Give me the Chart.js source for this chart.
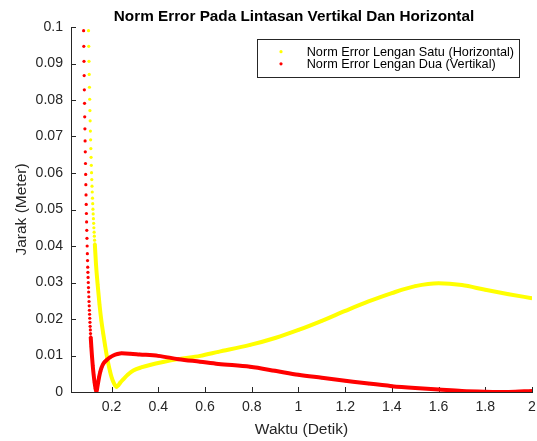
<!DOCTYPE html>
<html><head><meta charset="utf-8">
<script src="https://cdn.jsdelivr.net/npm/chart.js@4.4.0/dist/chart.umd.min.js"></script>
<style>html,body{margin:0;padding:0;background:#fff;} #wrap{width:537px;height:441px;position:relative;}</style>
</head><body><div id="wrap"><canvas id="c"></canvas></div>
<script>
const chartTitle = 'Norm Error Pada Lintasan Vertikal Dan Horizontal';
const xTitle = 'Waktu (Detik)';
const yTitle = 'Jarak (Meter)';
const seriesNames = ['Norm Error Lengan Satu (Horizontal)', 'Norm Error Lengan Dua (Vertikal)'];
const seriesColors = ['#FFFF00', '#FF0000'];

const xTicks = [0.2, 0.4, 0.6, 0.8, 1, 1.2, 1.4, 1.6, 1.8, 2];
const xTickLabels = ['0.2', '0.4', '0.6', '0.8', '1', '1.2', '1.4', '1.6', '1.8', '2'];
const yTicks = [0, 0.01, 0.02, 0.03, 0.04, 0.05, 0.06, 0.07, 0.08, 0.09, 0.1];
const yTickLabels = ['0', '0.01', '0.02', '0.03', '0.04', '0.05', '0.06', '0.07', '0.08', '0.09', '0.1'];
const xRange = [0.026, 2];
const yRange = [0, 0.1];

// Series 1: Lengan Satu (Horizontal) - yellow
const satuX = [0.101,0.102,0.103,0.104,0.105,0.106,0.107,0.108,0.109,0.110,
  0.111,0.112,0.113,0.114,0.115,0.116,0.117,0.118,0.119,0.120,
  0.121,0.122,0.123,0.124,0.125,0.126,0.127,0.128,
  0.133,0.140,0.148,0.156,0.164,0.172,0.179,0.186,0.193,0.200,0.207,0.214,0.221,0.228,0.236,
  0.25,0.27,0.293,0.33,0.364,0.42,0.486,0.579,0.657,0.793,0.9,1.0,1.1,1.2,1.3,1.4,1.5,1.6,1.7,1.8,1.9,2.0];
const satuY = [0.0990,0.0947,0.0906,0.0870,0.0835,0.0802,0.0771,0.0743,0.0715,0.0691,
  0.0667,0.0643,0.0621,0.0601,0.0582,0.0564,0.0548,0.0531,0.0516,0.0501,
  0.0488,0.0475,0.0462,0.0450,0.0438,0.0427,0.0416,0.0406,
  0.0350,0.0295,0.0240,0.0195,0.0160,0.0127,0.0100,0.0077,0.0057,0.0040,0.0028,0.0019,0.0014,0.0018,0.0025,
  0.0035,0.0048,0.0059,0.0068,0.0074,0.0082,0.0090,0.0099,0.0110,0.0129,0.0148,0.0170,0.0195,0.0222,0.0248,0.0271,0.0290,0.0298,0.0293,0.0280,0.0268,0.0257];
const satuDots = 28;

// Series 2: Lengan Dua (Vertikal) - red
const duaX = [0.0800,0.0808,0.0816,0.0824,0.0832,0.0840,0.0848,0.0856,0.0864,0.0872,
  0.0880,0.0888,0.0896,0.0904,0.0912,0.0920,0.0928,0.0936,0.0944,0.0952,
  0.0960,0.0968,0.0976,0.0984,0.0992,0.1000,0.1008,0.1016,0.1024,0.1032,
  0.1040,0.1048,0.1056,0.1064,0.1072,0.1080,0.1088,0.1096,0.1104,
  0.113,0.116,0.119,0.123,0.127,0.131,0.135,0.139,0.143,0.147,0.152,0.157,0.164,0.171,0.179,0.193,0.207,0.225,0.243,
  0.28,0.32,0.40,0.486,0.579,0.657,0.793,0.9,1.0,1.1,1.2,1.3,1.4,1.5,1.6,1.7,1.8,1.9,2.0];
const duaY = [0.0990,0.0947,0.0906,0.0867,0.0828,0.0791,0.0754,0.0721,0.0688,0.0658,
  0.0626,0.0596,0.0568,0.0540,0.0514,0.0489,0.0466,0.0443,0.0421,0.0400,
  0.0379,0.0360,0.0342,0.0328,0.0314,0.0300,0.0286,0.0274,0.0261,0.0248,
  0.0236,0.0224,0.0213,0.0202,0.0191,0.0180,0.0170,0.0160,0.0151,
  0.0124,0.0097,0.0073,0.0047,0.0026,0.0010,0.0000,0.0014,0.0029,0.0043,0.0057,0.0067,0.0077,0.0083,0.0088,0.0095,0.0100,0.0104,0.0106,
  0.0105,0.0103,0.0099,0.0090,0.0083,0.0077,0.0069,0.0058,0.0047,0.0039,0.0031,0.0023,0.0016,0.0011,0.0007,0.0003,0.0001,0.0000,0.0003];
const duaDots = 39;

const FONT = '"Liberation Sans", Arial, Helvetica, sans-serif';
const AX = '#262626';
Chart.defaults.font.family = FONT;

function makeSet(name, color, xs, ys, dots, order) {
  return {
    label: name,
    data: xs.map((x, i) => ({x: x, y: ys[i]})),
    showLine: true,
    borderColor: color,
    backgroundColor: color,
    borderWidth: 4,
    pointRadius: 1.6,
    pointBorderWidth: 0,
    pointHoverRadius: 1.6,
    cubicInterpolationMode: 'monotone',
    order: order,
    segment: {
      borderColor: ctx => (ctx.p1DataIndex <= dots - 1 ? 'rgba(0,0,0,0)' : color)
    }
  };
}

const overlay = {
  id: 'overlay',
  beforeDatasetsDraw(chart) {
    const {ctx, chartArea: a, scales: {x, y}} = chart;
    ctx.save();
    ctx.strokeStyle = AX; ctx.lineWidth = 1;
    ctx.beginPath();
    x.ticks.forEach(t => { const px = Math.round(x.getPixelForValue(t.value)) + 0.5; ctx.moveTo(px, a.bottom); ctx.lineTo(px, a.bottom - 5); });
    y.ticks.forEach(t => { const py = Math.round(y.getPixelForValue(t.value)) + 0.5; ctx.moveTo(a.left, py); ctx.lineTo(a.left + 5, py); });
    ctx.stroke();
    ctx.restore();
  },
  afterDraw(chart) {
    const {ctx, chartArea: a} = chart;
    ctx.save();
    // title
    ctx.fillStyle = '#000';
    ctx.font = 'bold 15.3px ' + FONT;
    ctx.textAlign = 'center'; ctx.textBaseline = 'alphabetic';
    ctx.fillText(chartTitle, 294, 21);
    // legend
    const right = a.right - 13, top = a.top + 12, h = 38;
    const left = right - 262;
    ctx.fillStyle = '#fff';
    ctx.fillRect(left, top, right - left, h);
    ctx.strokeStyle = AX; ctx.lineWidth = 1;
    ctx.strokeRect(Math.round(left) + 0.5, Math.round(top) + 0.5, Math.round(right - left), h);
    ctx.font = '12.7px ' + FONT;
    ctx.textAlign = 'left'; ctx.textBaseline = 'middle';
    const rows = [12.7, 24.8];
    seriesNames.forEach((n, i) => {
      const cy = top + rows[i];
      ctx.fillStyle = seriesColors[i];
      ctx.beginPath(); ctx.arc(left + 24, cy, 1.6, 0, Math.PI * 2); ctx.fill();
      ctx.fillStyle = '#000';
      ctx.fillText(n, left + 49.7, cy + 0.5);
    });
    ctx.restore();
  }
};

new Chart(document.getElementById('c'), {
  type: 'scatter',
  data: {
    datasets: [
      makeSet(seriesNames[0], seriesColors[0], satuX, satuY, satuDots, 1),
      makeSet(seriesNames[1], seriesColors[1], duaX, duaY, duaDots, 0)
    ]
  },
  options: {
    responsive: true, maintainAspectRatio: false, animation: false,
    layout: {padding: {left: 4, right: 5, top: 27, bottom: 0}},
    plugins: {legend: {display: false}, tooltip: {enabled: false}, title: {display: false}},
    scales: {
      x: {
        type: 'linear', min: xRange[0], max: xRange[1],
        afterBuildTicks: s => { s.ticks = xTicks.map(v => ({value: v})); },
        afterFit: s => { s.height = 49; s.paddingLeft = 0; s.paddingRight = 0; },
        grid: {display: false, drawTicks: false},
        border: {display: true, color: AX, width: 1},
        ticks: {color: AX, font: {size: 14.1}, padding: 7, maxRotation: 0, autoSkip: false,
          callback: (v, i) => xTickLabels[i]},
        title: {display: true, text: xTitle, color: AX, font: {size: 15.5}, padding: {top: 0, bottom: 2}}
      },
      y: {
        type: 'linear', min: yRange[0], max: yRange[1],
        afterBuildTicks: s => { s.ticks = yTicks.map(v => ({value: v})); },
        afterFit: s => { s.width = 67; s.paddingTop = 0; s.paddingBottom = 0; },
        grid: {display: false, drawTicks: false},
        border: {display: true, color: AX, width: 1},
        ticks: {color: AX, font: {size: 14.1}, padding: 8, autoSkip: false,
          callback: (v, i) => yTickLabels[i]},
        title: {display: true, text: yTitle, color: AX, font: {size: 15.5}, padding: {top: 8.4, bottom: 0}}
      }
    }
  },
  plugins: [overlay]
});
</script></body></html>
